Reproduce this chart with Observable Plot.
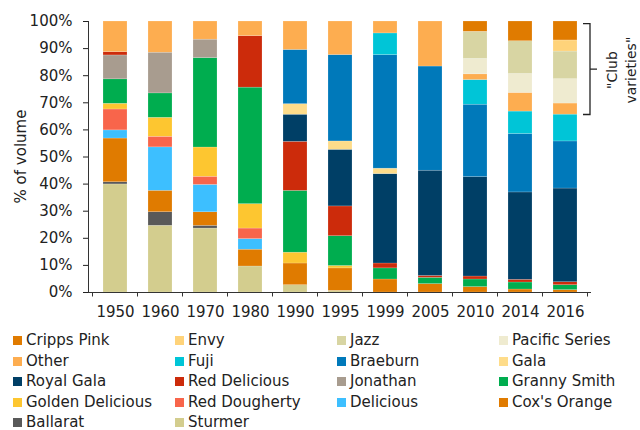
<!DOCTYPE html>
<html>
<head>
<meta charset="utf-8">
<script src="https://cdn.jsdelivr.net/npm/d3@7"></script>
<script src="https://cdn.jsdelivr.net/npm/@observablehq/plot@0.6"></script>
<style>
  html, body { margin: 0; padding: 0; background: #fff; }
  body { width: 640px; height: 430px; overflow: hidden; font-family: "DejaVu Sans", sans-serif; color: #222; }
  #legend { display: grid; grid-template-columns: 162px 162px 162px 140px; padding-left: 13px; margin-top: 4px; width: 640px; box-sizing: border-box; }
  .item { height: 20.5px; line-height: 20.5px; font-size: 15px; white-space: nowrap; }
  .sw { display: inline-block; width: 9px; height: 9px; margin-right: 4px; vertical-align: 0; }
</style>
</head>
<body>
<div id="chart"></div>
<div id="legend"></div>
<script>
// Years (x categories)
const years = ["1950","1960","1970","1980","1990","1995","1999","2005","2010","2014","2016"];

// Stack order bottom -> top
const varieties = ["Sturmer","Ballarat","Cox's Orange","Delicious","Red Dougherty","Golden Delicious",
  "Granny Smith","Jonathan","Red Delicious","Royal Gala","Gala","Braeburn","Fuji","Other",
  "Pacific Series","Jazz","Envy","Cripps Pink"];
const colors = ["#D3CD8E","#595959","#E07B00","#3DBFFF","#F8654B","#FDC630",
  "#00AD4F","#A89C8F","#CC2B0B","#003F66","#FEDC8A","#0079BA","#00C5D7","#FDAD50",
  "#EFEBD0","#D8D5A3","#FFD37A","#E07B00"];

// Legend order (row-major, 4 columns)
const legendOrder = ["Cripps Pink","Envy","Jazz","Pacific Series","Other","Fuji","Braeburn","Gala",
  "Royal Gala","Red Delicious","Jonathan","Granny Smith","Golden Delicious","Red Dougherty",
  "Delicious","Cox's Orange","Ballarat","Sturmer"];

// % of volume per variety, per year
const sturmer         = [39.8, 24.6, 23.6,  9.6,  2.7,  0.6,  0,    0,    0,    0,    0];
const ballarat        = [ 0.8,  5.0,  1.0,  0,    0,    0,    0,    0,    0,    0,    0];
const coxsOrange      = [16.1,  7.9,  5.0,  6.2,  8.0,  8.3,  4.8,  3.1,  2.0,  1.1,  0.9];
const delicious       = [ 3.0, 16.0, 10.1,  3.9,  0,    0,    0,    0,    0,    0,    0];
const redDougherty    = [ 7.7,  3.9,  3.0,  3.9,  0,    0,    0,    0,    0,    0,    0];
const goldenDelicious = [ 2.1,  7.0, 10.8,  9.0,  4.0,  0.9,  0,    0,    0,    0,    0];
const grannySmith     = [ 9.0,  9.0, 33.0, 43.0, 22.8, 11.0,  4.1,  2.3,  2.8,  2.6,  1.8];
const jonathan        = [ 8.8, 15.0,  6.8,  0,    0,    0,    0,    0,    0,    0,    0];
const redDelicious    = [ 1.2,  0,    0,   19.0, 18.1, 11.0,  1.8,  0.7,  1.1,  1.0,  1.1];
const royalGala       = [ 0,    0,    0,    0,   10.0, 20.9, 33.0, 38.8, 36.7, 32.3, 34.6];
const gala            = [ 0,    0,    0,    0,    3.9,  3.1,  2.0,  0,    0,    0,    0];
const braeburn        = [ 0,    0,    0,    0,   20.0, 31.9, 41.9, 38.4, 26.7, 21.6, 17.4];
const fuji            = [ 0,    0,    0,    0,    0,    0,    8.0,  0,    9.1,  8.3,  9.9];
const other           = [11.3, 11.5,  6.7,  5.4, 10.5, 12.4,  4.4, 16.6,  2.1,  6.9,  4.1];
const pacificSeries   = [ 0,    0,    0,    0,    0,    0,    0,    0,    5.7,  7.0,  9.0];
const jazz            = [ 0,    0,    0,    0,    0,    0,    0,    0,   10.0, 12.1, 10.2];
const envy            = [ 0,    0,    0,    0,    0,    0,    0,    0,    0,    0,    4.1];
const crippsPink      = [ 0,    0,    0,    0,    0,    0,    0,    0,    3.8,  7.3,  7.0];

const series = [sturmer, ballarat, coxsOrange, delicious, redDougherty, goldenDelicious,
  grannySmith, jonathan, redDelicious, royalGala, gala, braeburn, fuji, other,
  pacificSeries, jazz, envy, crippsPink];

// Annotation
const bracketTop = 0.99, bracketBottom = 0.655;
const bracketLines = ["\"Club", "varieties\""];
const yTitle = "% of volume";

const rows = [];
years.forEach((yr, j) => {
  varieties.forEach((v, i) => {
    const val = series[i][j];
    if (val > 0) rows.push({year: yr, variety: v, value: val});
  });
});

const chart = Plot.plot({
  width: 640, height: 326,
  marginTop: 21, marginBottom: 34, marginLeft: 88, marginRight: 49,
  style: {fontFamily: "DejaVu Sans, sans-serif", fontSize: "15px", color: "#222", background: "white", overflow: "visible"},
  x: {domain: years, paddingInner: 0.475, paddingOuter: 0.2375, tickSize: 0, tickPadding: 14, label: null},
  y: {domain: [0, 1], ticks: d3.range(0, 1.0001, 0.1), tickFormat: d3.format(".0%"), tickSize: 5, tickPadding: 11, label: null},
  color: {domain: varieties, range: colors},
  marks: [
    Plot.barY(rows, {x: "year", y: "value", fill: "variety", offset: "normalize",
      stroke: "white", strokeOpacity: 0.35, strokeWidth: 0.5}),
    Plot.ruleY([0], {stroke: "#333"})
  ]
});
document.getElementById("chart").appendChild(chart);

// Extra axis decorations using the plot's own scales
const svg = d3.select(chart.tagName.toLowerCase() === "svg" ? chart : chart.querySelector("svg"));
const sx = chart.scale("x"), sy = chart.scale("y");
const ys = d3.scaleLinear(sy.domain, sy.range);
const xs = d3.scaleBand(sx.domain, sx.range)
  .paddingInner(sx.paddingInner ?? 0.475).paddingOuter(sx.paddingOuter ?? 0.2375)
  .align(sx.align ?? 0.5).round(!!sx.round);
const step = xs.step(), bw = xs.bandwidth();
const g = svg.append("g").attr("stroke", "#333").attr("fill", "none");
// y axis line
const x0 = sx.range[0];
g.append("line").attr("x1", x0 + 0.5).attr("x2", x0 + 0.5).attr("y1", ys(0)).attr("y2", ys(1));
// x boundary ticks
const bounds = years.map(d => xs(d) + bw / 2 - step / 2);
bounds.push(xs(years[years.length - 1]) + bw / 2 + step / 2);
bounds.forEach(b => {
  g.append("line").attr("x1", b).attr("x2", b).attr("y1", ys(0)).attr("y2", ys(0) + 4.5);
});
// y title
svg.append("text")
  .attr("transform", `translate(21,${(ys(0) + ys(1)) / 2}) rotate(-90)`)
  .attr("text-anchor", "middle").attr("dy", "0.35em")
  .attr("fill", "#222").style("font-size", "15px").text(yTitle);
// bracket
const bx = sx.range[1] - 1;
const bt = ys(bracketTop), bb = ys(bracketBottom), bm = (bt + bb) / 2;
svg.append("path")
  .attr("d", `M${bx - 7},${bt}H${bx}V${bb}H${bx - 7}M${bx},${bm}H${bx + 7}`)
  .attr("fill", "none").attr("stroke", "#222").attr("stroke-width", 1.3);
bracketLines.forEach((t, i) => {
  svg.append("text")
    .attr("transform", `translate(${bx + 22 + i * 19},${bm + 1}) rotate(-90)`)
    .attr("text-anchor", "middle").attr("dy", "0.35em")
    .attr("fill", "#222").style("font-size", "14px").text(t);
});

// Legend
const cmap = new Map(varieties.map((v, i) => [v, colors[i]]));
const leg = d3.select("#legend");
legendOrder.forEach(name => {
  const it = leg.append("div").attr("class", "item");
  it.append("span").attr("class", "sw").style("background", cmap.get(name));
  it.append("span").text(name);
});
</script>
</body>
</html>
